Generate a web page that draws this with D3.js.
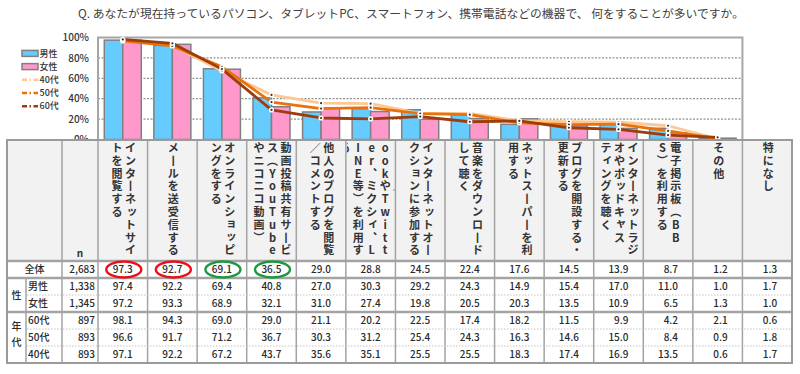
<!DOCTYPE html>
<html>
<head>
<meta charset="utf-8">
<script src="https://cdn.jsdelivr.net/npm/d3@7"></script>
<style>
  body { margin: 0; background: #fff; }
  svg { display: block; }
  text { font-family: "Noto Sans CJK JP", "Noto Sans", sans-serif; }
</style>
</head>
<body>
<svg width="800" height="374"></svg>
<script>
const TITLE = "Q. あなたが現在持っているパソコン、タブレットPC、スマートフォン、携帯電話などの機器で、 何をすることが多いですか。";

// column headers, "|" = where the vertical text wraps
const items = [
  "インターネットサイ|トを閲覧する",
  "メールを送受信する",
  "オンラインショッピ|ングをする",
  "動画投稿共有サービ|ス（YouTube|やニコニコ動画）",
  "他人のブログを閲覧|／コメントする",
  "SNS（Faceb|ookやTwitt|er、ミクシィ、L|INE等）を利用す|る",
  "インターネットオー|クションに参加する",
  "音楽をダウンロード|して聴く",
  "ネットスーパーを利|用する",
  "ブログを開設する・|更新する",
  "インターネットラジ|オやポッドキャス|ティングを聴く",
  "電子掲示板（BB|S）を利用する",
  "その他",
  "特になし"
];

const rowKeys = ["全体", "男性", "女性", "60代", "50代", "40代"];
const rowN = ["2,683", "1,338", "1,345", "897", "893", "893"];

const valAll    = [97.3, 92.7, 69.1, 36.5, 29.0, 28.8, 24.5, 22.4, 17.6, 14.5, 13.9, 8.7, 1.2, 1.3];
const valMale   = [97.4, 92.2, 69.4, 40.8, 27.0, 30.3, 29.2, 24.3, 14.9, 15.4, 17.0, 11.0, 1.0, 1.7];
const valFemale = [97.2, 93.3, 68.9, 32.1, 31.0, 27.4, 19.8, 20.5, 20.3, 13.5, 10.9, 6.5, 1.3, 1.0];
const val60     = [98.1, 94.3, 69.0, 29.0, 21.1, 20.2, 22.5, 17.4, 18.2, 11.5, 9.9, 4.2, 2.1, 0.6];
const val50     = [96.6, 91.7, 71.2, 36.7, 30.3, 31.2, 25.4, 24.3, 16.3, 14.6, 15.0, 8.4, 0.9, 1.8];
const val40     = [97.1, 92.2, 67.2, 43.7, 35.6, 35.1, 25.5, 25.5, 18.3, 17.4, 16.9, 13.5, 0.6, 1.7];

const yTicks = [0, 20, 40, 60, 80, 100];
const barSeries = ["男性", "女性"];
const lineSeries = ["40代", "50代", "60代"];
const circledRed = [0, 1];
const circledGreen = [2, 3];

// chart shows every item except the last one (特になし)
const N_CHART = 13;
const tableRows = [valAll, valMale, valFemale, val60, val50, val40];
const barData = { "男性": valMale, "女性": valFemale };
const lineData = { "40代": val40, "50代": val50, "60代": val60 };
const barColor = { "男性": "#66ccff", "女性": "#ff99cc" };
const lineColor = { "40代": "#fbc896", "50代": "#e8720c", "60代": "#9e3d0c" };

const svg = d3.select("svg");

const x = d3.scaleBand().domain(d3.range(items.length)).range([98, 792]);
const bw = x.bandwidth();
const plotRight = x(N_CHART - 1) + bw;
const y = d3.scaleLinear().domain([0, 100]).range([139.5, 37.5]);
const xs = d3.scaleBand().domain(barSeries).range([0, bw]).paddingOuter(0.34);

// title
svg.append("text")
  .attr("x", 411).attr("y", 18)
  .attr("text-anchor", "middle")
  .attr("font-size", 11.8)
  .attr("fill", "#404040")
  .text(TITLE);

// grid
svg.append("g")
  .selectAll("line")
  .data(yTicks.filter(d => d > 0 && d < 100))
  .join("line")
  .attr("x1", 98).attr("x2", plotRight)
  .attr("y1", d => y(d)).attr("y2", d => y(d))
  .attr("stroke", "#666")
  .attr("stroke-width", 0.9)
  .attr("stroke-dasharray", "2,1.5");

// y axis labels
const yAxis = svg.append("g")
  .attr("transform", "translate(89,0)")
  .call(d3.axisLeft(y).tickValues(yTicks).tickFormat(d => d + "%").tickSize(0).tickPadding(0));
yAxis.select(".domain").remove();
yAxis.selectAll("text")
  .attr("font-size", 10)
  .attr("font-weight", 500)
  .attr("fill", "#333")
  .style("font-family", "\"Noto Sans CJK JP\", sans-serif");

// bars
const idx = d3.range(N_CHART);
barSeries.forEach(s => {
  svg.append("g")
    .selectAll("rect")
    .data(idx)
    .join("rect")
    .attr("x", i => x(i) + xs(s))
    .attr("y", i => y(barData[s][i]))
    .attr("width", xs.bandwidth())
    .attr("height", i => y(0) - y(barData[s][i]))
    .attr("fill", barColor[s])
    .attr("stroke", "#808080")
    .attr("stroke-width", 1.5);
});

// frame
svg.append("path")
  .attr("d", `M98,${y(0)}V${y(100)}H${plotRight}V${y(0)}`)
  .attr("fill", "none")
  .attr("stroke", "#a6a6a6")
  .attr("stroke-width", 2);

// lines
const line = d3.line().x(i => x(i) + bw / 2);
lineSeries.forEach(s => {
  svg.append("path")
    .datum(idx)
    .attr("d", line.y(i => y(lineData[s][i])))
    .attr("fill", "none")
    .attr("stroke", lineColor[s])
    .attr("stroke-width", 2.8)
    .attr("stroke-linejoin", "round");
});
lineSeries.forEach(s => {
  const g = svg.append("g");
  g.selectAll("circle.m")
    .data(idx)
    .join("circle")
    .attr("cx", i => x(i) + bw / 2)
    .attr("cy", i => y(lineData[s][i]))
    .attr("r", 2.6)
    .attr("fill", "#fff");
  g.selectAll("circle.d")
    .data(idx)
    .join("circle")
    .attr("cx", i => x(i) + bw / 2)
    .attr("cy", i => y(lineData[s][i]))
    .attr("r", 1.1)
    .attr("fill", "#333");
});

// legend
const lg = svg.append("g");
const LEG_STEP = 13.2;
barSeries.forEach((s, k) => {
  const ly = 53.4 + k * LEG_STEP;
  lg.append("rect").attr("x", 22).attr("y", ly - 3).attr("width", 16).attr("height", 6)
    .attr("fill", barColor[s]).attr("stroke", "#808080").attr("stroke-width", 1.5);
  lg.append("text").attr("x", 39.5).attr("y", ly).attr("dy", "0.35em")
    .attr("font-size", 9).attr("font-weight", 500).attr("fill", "#333").text(s);
});
lineSeries.forEach((s, k) => {
  const ly = 53.4 + (k + 2) * LEG_STEP;
  lg.append("line").attr("x1", 22).attr("x2", 38).attr("y1", ly).attr("y2", ly)
    .attr("stroke", lineColor[s]).attr("stroke-width", 2.5)
    .attr("stroke-dasharray", "5,2.5,1.5,2.5");
  lg.append("text").attr("x", 39.5).attr("y", ly).attr("dy", "0.35em")
    .attr("font-size", 9).attr("font-weight", 500).attr("fill", "#333").text(s);
});

// ---------- table ----------
const T_TOP = 140, T_HEAD = 261, T_BOT = 363, T_LEFT = 7, T_RIGHT = 792;
const ry = d3.scaleBand().domain(rowKeys).range([T_HEAD, T_BOT]);
const rh = ry.bandwidth();
const tbl = svg.append("g");

tbl.append("rect")
  .attr("x", T_LEFT).attr("y", T_TOP)
  .attr("width", T_RIGHT - T_LEFT).attr("height", T_HEAD - T_TOP)
  .attr("fill", "#f2f2f2");
tbl.append("rect")
  .attr("x", T_LEFT).attr("y", T_HEAD)
  .attr("width", T_RIGHT - T_LEFT).attr("height", T_BOT - T_HEAD)
  .attr("fill", "#fff");

// header text: one <text> per vertical column, every char placed on its own
const vert = { "ー": "丨", "（": "︵", "）": "︶", "、": "︑" };
const small = "ッャィョュ";
const defs = svg.append("defs");
items.forEach((label, i) => {
  defs.append("clipPath").attr("id", "hc" + i)
    .append("rect").attr("x", x(i) + 1).attr("y", T_TOP + 1)
    .attr("width", bw - 2).attr("height", T_HEAD - T_TOP - 2);
  const cols = label.split("|");
  const cx = x(i) + bw / 2 + 1;
  const g = tbl.append("g").attr("clip-path", `url(#hc${i})`);
  cols.forEach((col, j) => {
    const colX = cx + ((cols.length - 1) / 2 - j) * 13.5;
    const chars = Array.from(col);
    const px = chars.map(ch => colX + (small.includes(ch) ? 1.5 : 0));
    const py = chars.map((ch, k) => 152 + k * 12.8 - (small.includes(ch) ? 1.5 : 0));
    g.append("text")
      .attr("x", px.join(" "))
      .attr("y", py.join(" "))
      .attr("text-anchor", "middle")
      .attr("font-size", 11)
      .attr("font-weight", 600)
      .attr("fill", "#333")
      .text(chars.map(ch => vert[ch] || ch).join(""));
  });
});
tbl.append("text").attr("x", 80).attr("y", 253).attr("dy", "0.35em")
  .attr("text-anchor", "middle").attr("font-size", 10).attr("font-weight", 700)
  .attr("fill", "#333").text("n");

// row labels
const lbl = (t, lx, ly, anchor) => tbl.append("text")
  .attr("x", lx).attr("y", ly).attr("dy", "0.35em")
  .attr("text-anchor", anchor).attr("font-size", 10).attr("font-weight", 500)
  .attr("fill", "#2a2a2a").text(t);
lbl("全体", 34.5, ry("全体") + rh / 2, "middle");
lbl("性", 16.5, ry("女性"), "middle");
lbl("年", 16.5, ry("50代") + rh / 2 - 11, "middle");
lbl("代", 16.5, ry("50代") + rh / 2 + 5, "middle");
rowKeys.slice(1).forEach(k => lbl(k, 28, ry(k) + rh / 2, "start"));

// numbers
rowKeys.forEach((k, r) => {
  lbl(rowN[r], 95, ry(k) + rh / 2, "end");
  tableRows[r].forEach((v, i) => lbl(v.toFixed(1), x(i) + bw / 2 + 10, ry(k) + rh / 2, "end"));
});

// grid lines of the table
const lineC = "#a3a3a3";
const vx = [62, 98].concat(d3.range(1, items.length).map(i => x(i)));
tbl.selectAll("line.v").data(vx).join("line")
  .attr("x1", d => d).attr("x2", d => d).attr("y1", T_TOP).attr("y2", T_BOT)
  .attr("stroke", lineC).attr("stroke-width", 1.5);
tbl.append("line").attr("x1", 26).attr("x2", 26).attr("y1", ry("男性")).attr("y2", T_BOT)
  .attr("stroke", lineC).attr("stroke-width", 1.5);
[T_HEAD, ry("男性"), ry("60代")].forEach(hy => {
  tbl.append("line").attr("x1", T_LEFT).attr("x2", T_RIGHT).attr("y1", hy).attr("y2", hy)
    .attr("stroke", lineC).attr("stroke-width", 2.6);
});
[ry("女性"), ry("50代"), ry("40代")].forEach(hy => {
  tbl.append("line").attr("x1", 27).attr("x2", T_RIGHT - 1).attr("y1", hy).attr("y2", hy)
    .attr("stroke", "#c4c4c4").attr("stroke-width", 1).attr("stroke-dasharray", "1.5,1.5");
});
tbl.append("rect").attr("x", T_LEFT).attr("y", T_TOP)
  .attr("width", T_RIGHT - T_LEFT).attr("height", T_BOT - T_TOP)
  .attr("fill", "none").attr("stroke", "#9a9a9a").attr("stroke-width", 2);

// circled values in 全体
const circ = (cols, color) => tbl.selectAll(null).data(cols).join("ellipse")
  .attr("cx", i => x(i) + bw / 2 + 1).attr("cy", ry("全体") + rh / 2)
  .attr("rx", 17.5).attr("ry", 8)
  .attr("fill", "none").attr("stroke", color).attr("stroke-width", 2.4);
circ(circledRed, "#e8101a");
circ(circledGreen, "#1a9a3c");
</script>
</body>
</html>
